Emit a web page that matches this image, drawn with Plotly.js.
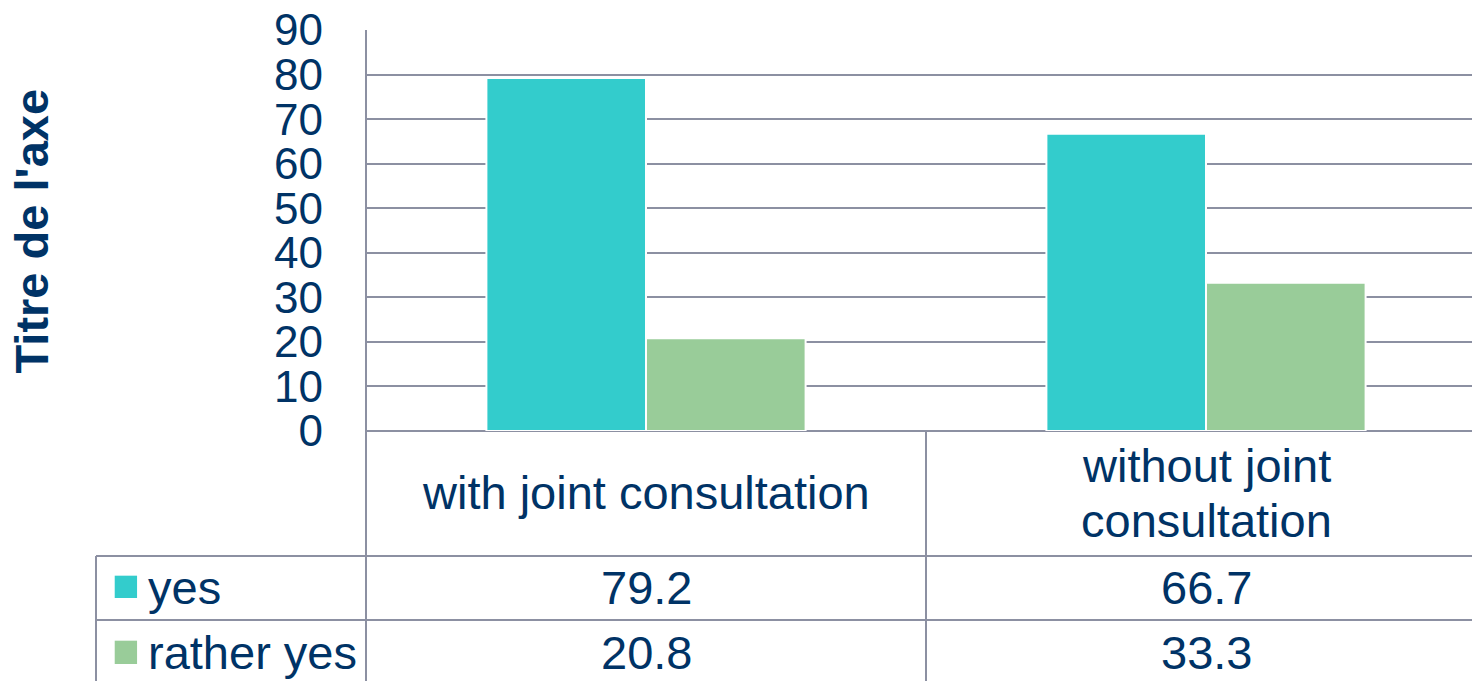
<!DOCTYPE html>
<html>
<head>
<meta charset="utf-8">
<script src="https://cdn.plot.ly/plotly-3.0.1.min.js"></script>
<style>html,body{margin:0;padding:0;background:#fff;}#chart{width:1472px;height:681px;}</style>
</head>
<body>
<div id="chart"></div>
<script>
const categories = ["with joint consultation", "without joint<br>consultation"];
const seriesNames = ["yes", "rather yes"];
const yesValues = [79.2, 66.7];
const ratherYesValues = [20.8, 33.3];
const yTicks = [0, 10, 20, 30, 40, 50, 60, 70, 80, 90];
const colors = ["#33CCCC", "#99CC99"];
const axisTitle = "Titre de l'axe";

const navy = "#003366";
const gridCol = "#8C90A2";
const fontFam = "Liberation Sans, Arial, sans-serif";
const tableFont = 47;
const xIdx = categories.map((c, i) => i);
const allSeries = [yesValues, ratherYesValues];

const traces = allSeries.map((vals, s) => ({
  type: "bar",
  name: seriesNames[s],
  x: xIdx,
  y: vals,
  marker: {color: colors[s], line: {color: "#ffffff", width: 2}},
  hoverinfo: "skip"
}));

// table geometry (paper units relative to plot area)
const rowTop2 = -0.3117;    // y=556px
const rowTop3 = -0.4713;    // y=620px
const bottom = -0.6234;     // y=681px
const tableLeft = -0.2441;  // x=96px
const L = {color: gridCol, width: 2};

const shapes = [
  {type: "line", xref: "paper", yref: "paper", x0: 0, x1: 0, y0: 1, y1: bottom, line: L},
  {type: "line", xref: "x", yref: "paper", x0: 0.5, x1: 0.5, y0: 0, y1: bottom, line: L},
  {type: "line", xref: "paper", yref: "paper", x0: tableLeft, x1: 1, y0: rowTop2, y1: rowTop2, line: L},
  {type: "line", xref: "paper", yref: "paper", x0: tableLeft, x1: 1, y0: rowTop3, y1: rowTop3, line: L},
  {type: "line", xref: "paper", yref: "paper", x0: tableLeft, x1: tableLeft, y0: rowTop2, y1: bottom, line: L}
];

// legend keys in table
const keyY = [[-0.3608, -0.4165], [-0.5229, -0.5810]];
seriesNames.forEach((n, s) => {
  shapes.push({type: "rect", xref: "paper", yref: "paper",
    x0: -0.2272, x1: -0.2070, y0: keyY[s][0], y1: keyY[s][1],
    fillcolor: colors[s], line: {width: 0}});
});

const annotations = [];
const tf = {size: tableFont, color: navy, family: fontFam};
categories.forEach((c, i) => {
  const lines = c.split("<br>");
  const ys = lines.length === 1 ? [-0.1546] : [-0.0848, -0.222];
  lines.forEach((ln, k) => {
    annotations.push({xref: "x", yref: "paper", x: i, y: ys[k], text: ln, showarrow: false,
      xanchor: "center", yanchor: "middle", font: tf});
  });
});
const rowY = [-0.3903, -0.5536];
allSeries.forEach((vals, s) => {
  vals.forEach((v, i) => {
    annotations.push({xref: "x", yref: "paper", x: i, y: rowY[s], text: v.toFixed(1), showarrow: false,
      xanchor: "center", yanchor: "middle", font: tf});
  });
  annotations.push({xref: "paper", yref: "paper", x: -0.199, y: rowY[s], text: seriesNames[s], showarrow: false,
    xanchor: "left", yanchor: "middle", font: tf});
});
annotations.push({xref: "paper", yref: "paper", x: -0.302, y: 0.5, text: "<b>" + axisTitle + "</b>",
  textangle: -90, showarrow: false, xanchor: "center", yanchor: "middle",
  font: {size: 47, color: navy, family: fontFam}});

const layout = {
  width: 1472, height: 681,
  margin: {l: 366, r: 0, t: 30, b: 250, pad: 0},
  paper_bgcolor: "#ffffff", plot_bgcolor: "#ffffff",
  showlegend: false,
  barmode: "group", bargap: 0.43, bargroupgap: 0,
  xaxis: {range: [-0.5, 1.475], showticklabels: false, showgrid: false, zeroline: false, showline: false, ticks: "", fixedrange: true},
  yaxis: {range: [0, 90], tickvals: yTicks, ticktext: yTicks.map(String), showgrid: true, gridcolor: gridCol, gridwidth: 2,
    zeroline: true, zerolinecolor: gridCol, zerolinewidth: 2, showline: false, ticks: "",
    ticklabelstandoff: 42, tickfont: {size: 44, color: navy, family: fontFam}, fixedrange: true},
  shapes: shapes,
  annotations: annotations,
  font: {family: fontFam, color: navy}
};

Plotly.newPlot("chart", traces, layout, {displayModeBar: false, staticPlot: true});
</script>
</body>
</html>
